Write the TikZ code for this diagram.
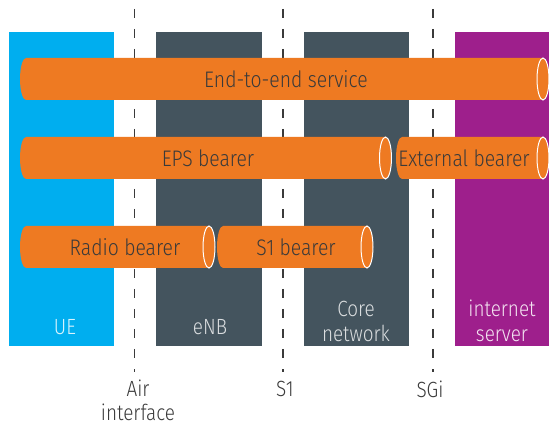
\documentclass[tikz,border=0pt]{standalone}
\usepackage{fontspec}
\setmainfont{Fira Sans Light}[FakeStretch=0.86]
\definecolor{uecol}{HTML}{00AEEF}
\definecolor{enbcol}{HTML}{44545E}
\definecolor{srvcol}{HTML}{9E1F8C}
\definecolor{tubecol}{HTML}{EE7A22}
\definecolor{inkcol}{HTML}{3A3A3A}
\tikzset{
  column/.style={fill=#1, draw=none},
  colname/.style={text=white, font=\fontsize{22}{25}\selectfont, align=center, inner sep=0pt},
  ifacename/.style={text=inkcol, font=\fontsize{22}{24}\selectfont, align=center, inner sep=0pt},
  tubename/.style={text=inkcol, font=\fontsize{22.5}{25}\selectfont, inner sep=0pt},
  iface/.style={draw=inkcol, line width=1.4pt, dash pattern=on 9pt off 11pt},
}
% \bearer{left x}{right x}{centre y}{label x}{label}{name}
\newcommand{\bearer}[6]{%
  \fill[tubecol] ({#1+6},{#3+21}) -- ({#2},{#3+21}) -- ({#2},{#3-21}) -- ({#1+6},{#3-21})
     arc[start angle=270, end angle=90, x radius=6pt, y radius=21pt] -- cycle;
  \draw[white, line width=1pt, fill=tubecol] ({#2},{#3}) ellipse[x radius=6pt, y radius=21pt];
  \node[tubename] (#6) at ({#4},{#3}) {#5};
}
\begin{document}
\begin{tikzpicture}[x=1pt, y=1pt]
  \useasboundingbox (0,0) rectangle (549,426);
  % network element columns
  \fill[column=uecol]  (9,80)   rectangle (114,394);
  \fill[column=enbcol] (156,80) rectangle (262,394);
  \fill[column=enbcol] (304,80) rectangle (409,394);
  \fill[column=srvcol] (455,80) rectangle (549,394);
  % interface boundaries
  \coordinate (airT) at (134.5,417); \coordinate (airB) at (134.5,54);
  \coordinate (s1T) at (283,417);    \coordinate (s1B) at (283,54);
  \coordinate (sgiT) at (433,417);   \coordinate (sgiB) at (433,54);
  \draw[iface] (airT) -- (airB);
  \draw[iface] (s1T) -- (s1B);
  \draw[iface] (sgiT) -- (sgiB);
  % bearers
  \bearer{20}{543}{347}{286}{End-to-end service}{e2e}
  \bearer{20}{385.5}{268}{208}{EPS bearer}{eps}
  \bearer{396}{543}{268}{464}{External bearer}{ext}
  \bearer{20}{209}{179}{125}{Radio bearer}{radio}
  \bearer{217}{367}{179}{296}{S1 bearer}{s1b}
  % column names
  \node[colname, text=uecol!15] (ue) at (65,99) {UE};
  \node[colname, text=enbcol!20] (enb) at (210,99) {eNB};
  \node[colname, text=enbcol!20] (core) at (356,105) {Core\\network};
  \node[colname, text=srvcol!12] (srv) at (502,105) {internet\\server};
  % interface names
  \node[ifacename] (air) at (138,26) {Air\\interface};
  \node[ifacename] (s1) at (285,37) {S1};
  \node[ifacename] (sgi) at (430,37) {SGi};
\end{tikzpicture}
\end{document}
